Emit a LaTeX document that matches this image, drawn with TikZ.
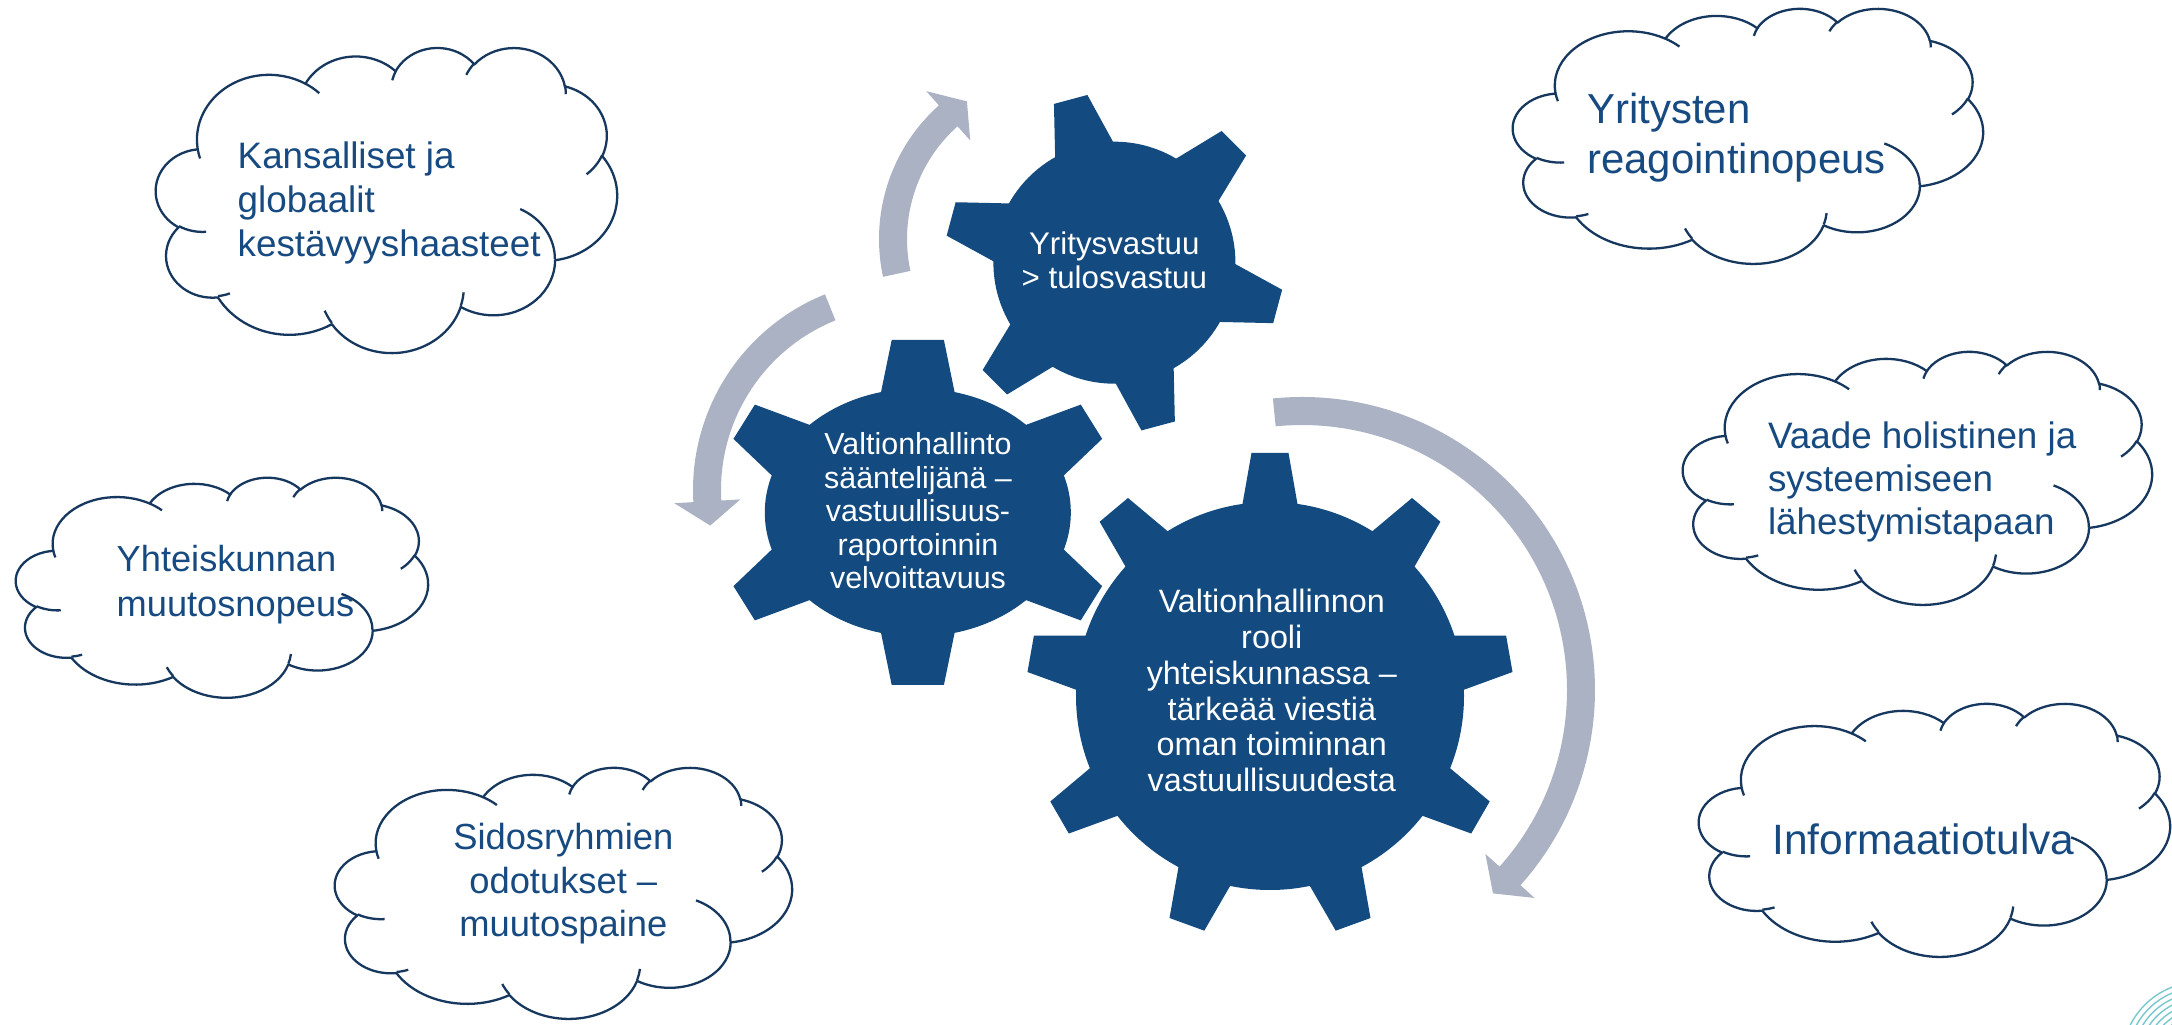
\documentclass[tikz,border=0pt]{standalone}
\usepackage{fontspec}
\setmainfont{Liberation Sans}
\definecolor{gearfill}{RGB}{19,74,127}
\definecolor{cloudline}{RGB}{22,55,94}
\definecolor{cloudtext}{RGB}{22,74,128}
\definecolor{arrowgrey}{RGB}{170,178,195}
\definecolor{tealline}{RGB}{120,200,205}

% OOXML arcTo (visual angles) -> TikZ arc (parametric angles)
\newcommand\ooprep[5]{%
  \pgfmathsetmacro\ooS{atan2((#2)*sin(#4),(#3)*cos(#4))}%
  \pgfmathsetmacro\ooE{atan2((#2)*sin((#4)+(#5)),(#3)*cos((#4)+(#5)))}%
  \pgfmathsetmacro\ooD{mod(\ooE-\ooS+720,360)-360*((#5)<0)}%
  \xdef#1{arc[x radius=#2, y radius=#3, start angle=\ooS, delta angle=\ooD]}%
}
\ooprep\cldA{6.753}{9.190}{-190.4875}{123.7805}
\ooprep\cldB{5.333}{7.267}{-144.1024}{89.9452}
\ooprep\cldC{4.365}{5.945}{-145.8079}{99.7230}
\ooprep\cldD{4.857}{6.595}{-130.9861}{117.2417}
\ooprep\cldE{5.333}{7.273}{-78.7089}{109.0269}
\ooprep\cldF{6.775}{9.220}{-46.2673}{130.2690}
\ooprep\cldG{5.785}{7.867}{0.6250}{114.0333}
\ooprep\cldH{6.752}{9.215}{22.4516}{115.1726}
\ooprep\cldI{7.720}{10.543}{66.2426}{75.7110}
\ooprep\cldJ{4.360}{5.918}{-274.9421}{146.7356}
\ooprep\cldK{4.345}{5.945}{-246.8285}{152.5189}
\ooprep\cliA{4.345}{5.945}{86.742}{26.4295}
\ooprep\cliB{4.360}{5.918}{73.6105}{11.4475}
\ooprep\cliC{6.752}{9.215}{137.6242}{14.0811}
\ooprep\cliD{6.752}{9.215}{6.4533}{15.9984}
\ooprep\cliE{5.785}{7.867}{-70.2924}{70.9174}
\ooprep\cliF{5.333}{7.273}{30.3180}{27.7515}
\ooprep\cliG{4.857}{6.595}{-13.7443}{14.8589}
\ooprep\cliH{4.857}{6.595}{-149.1815}{18.1954}
\ooprep\cliI{4.365}{5.945}{-163.4943}{17.6864}
\ooprep\cliJ{6.753}{9.190}{-66.7070}{12.3194}
\ooprep\cliK{6.753}{9.190}{157.6544}{11.8582}

\newcommand\cloudshape[4]{%
  \begin{scope}[shift={(#1,#2)}, xscale={#3/43.2}, yscale={#4/43.2}]
    \draw[cloudstyle, fill=white] (3.9,14.37) \cldA \cldB \cldC \cldD \cldE \cldF \cldG \cldH \cldI \cldJ \cldK -- cycle;
    \draw[cloudstyle] (4.693,26.177) \cliA (6.928,34.899) \cliB (16.478,39.090) \cliC
      (28.827,34.751) \cliD (34.129,22.954) \cliE (41.798,15.354) \cliF (38.324,5.426) \cliG
      (29.078,3.952) \cliH (22.141,4.720) \cliI (14.000,5.192) \cliJ (4.127,15.789) \cliK;
  \end{scope}}

% circular arrow: centre x,y, midline radius, tail angle, band end angle, tip angle
\newcommand\carrow[6]{%
  \fill[arrowgrey, shift={(#1,#2)}] (#4:{#3+14}) arc[start angle=#4, end angle=#5, radius={#3+14}]
    -- (#5:{#3+33}) -- (#6:#3) -- (#5:{#3-33}) -- (#5:{#3-14})
    arc[start angle=#5, end angle=#4, radius={#3-14}] -- cycle;}

% gear tooth: cx, cy, direction, base distance, base half width, length, tip half width
\newcommand\gtooth[7]{%
  \fill[gearfill, shift={(#1,#2)}, shift={(#3:#4)}, rotate={-(#3)}]
    (-15,{-(#5)-((#5)-(#7))/(#6)*15}) -- (0,-#5) -- (#6,-#7) -- (#6,#7) -- (0,#5)
    -- (-15,{(#5)+((#5)-(#7))/(#6)*15}) -- cycle;}

\begin{document}
\begin{tikzpicture}[x=0.01cm, y=-0.01cm,
  cloudstyle/.style={draw=cloudline, line width=0.65pt, line join=round},
  cloudtxt/.style={text=cloudtext, inner sep=0pt},
  geartxt/.style={text=white, inner sep=0pt, anchor=base}]
\useasboundingbox (0,0) rectangle (2172,1025);
\fill[white] (0,0) rectangle (2172,1025);

% arrows
\carrow{1058}{239}{165}{167.8}{228.3}{236.5}
\carrow{904}{490}{197}{248}{176.7}{169.6}
\carrow{1302}{690}{279}{-95.7}{41.8}{46.8}

% gear 1 (top)
\fill[gearfill] (1114.4,262.7) circle[radius=121];
\foreach \a in {15,75,135,195,255,315} {\gtooth{1114.4}{262.7}{\a}{117}{30}{52}{17.3}}
% gear 2 (left)
\fill[gearfill] (917.8,512.5) ellipse[x radius=153, y radius=124];
\gtooth{917.8}{391.7}{-90}{0}{36.7}{51.7}{26.1}
\gtooth{917.8}{633.3}{90}{0}{36.7}{51.7}{26.1}
\gtooth{1047.5}{449.2}{-32}{0}{30.9}{51.8}{20.2}
\gtooth{1047.5}{575.8}{32}{0}{30.9}{51.8}{20.2}
\gtooth{788.1}{449.2}{212}{0}{30.9}{51.8}{20.2}
\gtooth{788.1}{575.8}{148}{0}{30.9}{51.8}{20.2}
% gear 3 (large)
\fill[gearfill] (1270,696) circle[radius=194];
\foreach \a in {-90,-50,-10,30,70,110,150,190,230} {\gtooth{1270}{696}{\a}{192}{27.5}{51}{18.5}}

% gear texts
\node[geartxt, font={\fontsize{8.9}{9.5}\selectfont}] (g1t) at (1114.3,255)
  {\begin{tabular}[t]{@{}c@{}}Yritysvastuu\\> tulosvastuu\end{tabular}};
\node[geartxt, font={\fontsize{8.65}{9.48}\selectfont}] (g2t) at (918,455)
  {\begin{tabular}[t]{@{}c@{}}Valtionhallinto\\sääntelijänä –\\vastuullisuus-\\raportoinnin\\velvoittavuus\end{tabular}};
\node[geartxt, font={\fontsize{9.2}{10.15}\selectfont}] (g3t) at (1271.8,613)
  {\begin{tabular}[t]{@{}c@{}}Valtionhallinnon\\rooli\\yhteiskunnassa –\\tärkeää viestiä\\oman toiminnan\\vastuullisuudesta\end{tabular}};

% clouds
\cloudshape{156}{47}{461}{305}
\cloudshape{1513}{8}{470}{255}
\cloudshape{16}{477}{412}{220}
\cloudshape{335}{767}{457}{251}
\cloudshape{1683}{351}{469}{253}
\cloudshape{1699}{703}{471}{253}

% cloud texts
\node[cloudtxt, anchor=base west, font={\fontsize{10.47}{12.52}\selectfont}] (c1t) at (237,168.3)
  {\begin{tabular}[t]{@{}l@{}}Kansalliset ja\\globaalit\\kestävyyshaasteet\end{tabular}};
\node[cloudtxt, anchor=base west, font={\fontsize{11.92}{14.23}\selectfont}] (c2t) at (1586.7,123.3)
  {\begin{tabular}[t]{@{}l@{}}Yritysten\\reagointinopeus\end{tabular}};
\node[cloudtxt, anchor=base west, font={\fontsize{10.3}{12.8}\selectfont}] (c3t) at (116,571.7)
  {\begin{tabular}[t]{@{}l@{}}Yhteiskunnan\\muutosnopeus\end{tabular}};
\node[cloudtxt, anchor=base, font={\fontsize{10.33}{12.43}\selectfont}] (c4t) at (563.3,849.3)
  {\begin{tabular}[t]{@{}c@{}}Sidosryhmien\\odotukset –\\muutospaine\end{tabular}};
\node[cloudtxt, anchor=base west, font={\fontsize{10.47}{12.3}\selectfont}] (c5t) at (1767.3,448.3)
  {\begin{tabular}[t]{@{}l@{}}Vaade holistinen ja\\systeemiseen\\lähestymistapaan\end{tabular}};
\node[cloudtxt, anchor=base west, font={\fontsize{12.07}{14.5}\selectfont}] (c6t) at (1771.7,854.3)
  {Informaatiotulva};

% corner decoration
\begin{scope}
  \clip (0,0) rectangle (2172,1025);
  \foreach \r in {0,...,7} {\draw[tealline, line width=0.4pt] (2200,1060) circle[radius={78-5.5*\r}];}
\end{scope}
\end{tikzpicture}
\end{document}
